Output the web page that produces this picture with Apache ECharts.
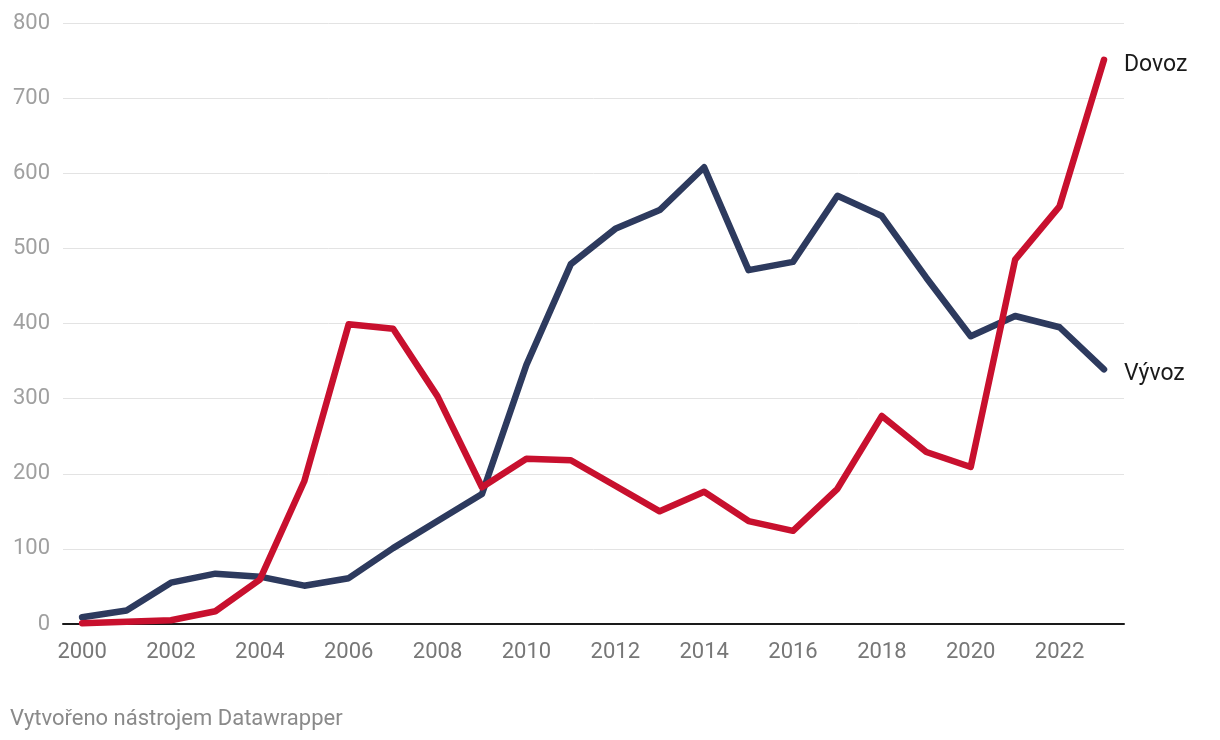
<!DOCTYPE html>
<html><head><meta charset="utf-8">
<script src="https://cdn.jsdelivr.net/npm/echarts@6/dist/echarts.min.js"></script>
<style>html,body{margin:0;padding:0;background:#fff}#c{width:1220px;height:740px}</style>
</head><body><div id="c"></div>
<script>
const years = [2000,2001,2002,2003,2004,2005,2006,2007,2008,2009,2010,2011,2012,2013,2014,2015,2016,2017,2018,2019,2020,2021,2022,2023];
const vyvoz = [9,18,55,67,63,51,61,101,137,173,345,479,526,551,608,471,482,570,543,461,383,410,395,339];
const dovoz = [1,3,5,17,59,190,399,393,303,182,220,218,184,150,176,137,124,180,277,229,209,485,556,751];
const xTickLabels = [2000,2002,2004,2006,2008,2010,2012,2014,2016,2018,2020,2022];
const yTicks = [0,100,200,300,400,500,600,700,800];

const chart = echarts.init(document.getElementById('c'));
const font = 'Roboto';
function mk(name, vals, color){
  return {
    name, type:'line', data: years.map((y,i)=>[y, vals[i]]),
    symbol:'none', lineStyle:{width:6.5, color, cap:'round', join:'round'},
    itemStyle:{color}, z: name==='Dovoz'?3:2,
    endLabel:{show:true, formatter:name, color:'#1a1a1a', fontFamily:font, fontSize:23, distance:20, offset:[0,5]},
    emphasis:{disabled:true}, animation:false
  };
}
chart.setOption({
  animation:false,
  grid:{left:63, right:96, top:23, bottom:116},
  xAxis:{type:'value', min:1999.57, max:2023.45,
    axisLine:{show:true, onZero:false, lineStyle:{color:'#1a1a1a', width:2}},
    axisTick:{show:false}, splitLine:{show:false},
    axisLabel:{customValues:xTickLabels, color:'#777', fontFamily:font, fontSize:22, margin:17, formatter:v=>String(v)}
  },
  yAxis:{type:'value', min:0, max:800, interval:100,
    axisLine:{show:false}, axisTick:{show:false},
    splitLine:{lineStyle:{color:'#e3e3e3', width:1}},
    axisLabel:{color:'#a0a0a0', fontFamily:font, fontSize:22, margin:13, formatter:v=>yTicks.includes(v)?String(v):''}
  },
  series:[mk('Vývoz', vyvoz, '#2d3a5e'), mk('Dovoz', dovoz, '#c8102e')],
  graphic:[{type:'text', left:10, top:708, style:{text:'Vytvořeno nástrojem Datawrapper', fill:'#8a8a8a', font:'22px Roboto'}}]
});
</script></body></html>
